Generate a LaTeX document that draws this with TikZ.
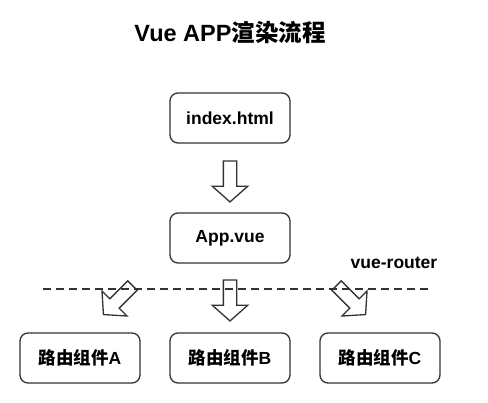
\documentclass[tikz,border=0pt]{standalone}
\usepackage{fontspec}
\setmainfont{Liberation Sans}
\newfontfamily\cjk{Noto Sans CJK SC}
\newcommand{\zh}[1]{{\cjk #1}}
\usepackage{xcolor}
\usepackage{tikz}
\usetikzlibrary{shapes.arrows, positioning}
\definecolor{linegray}{HTML}{333333}

\begin{document}
\begin{tikzpicture}[x=1pt, y=-1pt,
  box/.style={rectangle, draw=linegray, line width=1.3pt, rounded corners=8pt,
    minimum width=120pt, minimum height=50pt, font=\fontsize{17.5}{20}\selectfont\bfseries},
  blockarrow/.style={single arrow, draw=linegray, line width=1.3pt, inner sep=6pt,
    minimum height=41pt, single arrow head extend=11pt, single arrow tip angle=97,
    single arrow head indent=0pt}]
  \useasboundingbox (0,0) rectangle (488,403);
  \node[font=\fontsize{23.5}{26}\selectfont\bfseries] (Title) at (230,33) {Vue APP\zh{渲染流程}};
  \node[box] (Index) at (230,118) {index.html};
  \node[box] (App) at (230,238) {App.vue};
  \node[box] (CompA) at (80,358) {\zh{路由组件}A};
  \node[box] (CompB) at (230,358) {\zh{路由组件}B};
  \node[box] (CompC) at (380,358) {\zh{路由组件}C};
  \node[font=\fontsize{17.5}{20}\selectfont\bfseries] (Router) at (394,263) {vue-router};
  \node[blockarrow, rotate=-90] (IndexApp) at (230,178.5) {};
  \node[blockarrow, rotate=-90] (ToB) at (230,297.5) {};
  \node[blockarrow, rotate=-135] (ToA) at (120,298) {};
  \node[blockarrow, rotate=-45] (ToC) at (349,298) {};
  \draw[linegray, line width=2pt, dash pattern=on 8pt off 5pt] (43,289) -- (430,289);
\end{tikzpicture}
\end{document}
